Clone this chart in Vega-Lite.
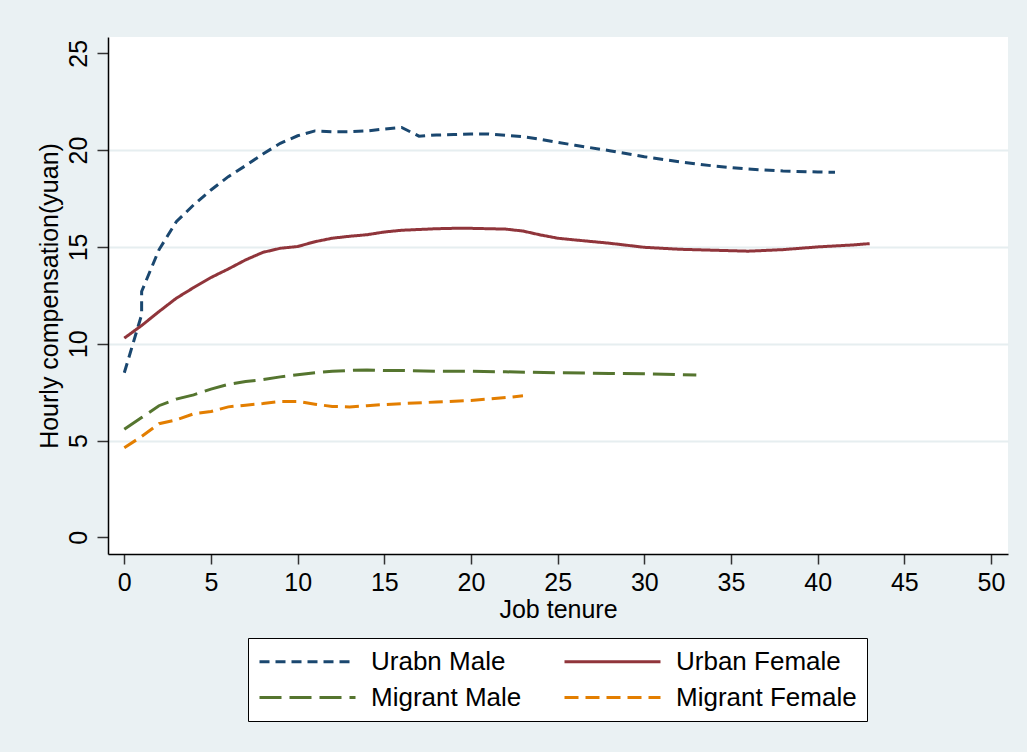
{
  "$schema": "https://vega.github.io/schema/vega-lite/v6.json",
  "autosize": {"type": "none"},
  "width": 900,
  "height": 517,
  "padding": {"left": 108, "top": 37, "right": 19, "bottom": 198},
  "background": "#EAF1F3",
  "config": {
    "font": "Liberation Sans",
    "view": {"stroke": null, "fill": "white"},
    "axis": {"labelFont": "Liberation Sans", "titleFont": "Liberation Sans", "labelColor": "black", "titleColor": "black", "titleFontWeight": "normal", "labelFontSize": 25, "titleFontSize": 25, "domainColor": "black", "domainWidth": 1.5, "tickColor": "#333333", "tickWidth": 1.5},
    "legend": {"labelFont": "Liberation Sans", "labelFontSize": 26, "labelColor": "black"}
  },
  "data": {
    "values": [
      {"s": "Urabn Male", "i": 1, "t": 0, "v": 8.5},
      {"s": "Urabn Male", "i": 2, "t": 1, "v": 11.5},
      {"s": "Urabn Male", "i": 3, "t": 1, "v": 12.7},
      {"s": "Urabn Male", "i": 4, "t": 2, "v": 14.85},
      {"s": "Urabn Male", "i": 5, "t": 3, "v": 16.3},
      {"s": "Urabn Male", "i": 6, "t": 4, "v": 17.17},
      {"s": "Urabn Male", "i": 7, "t": 5, "v": 17.94},
      {"s": "Urabn Male", "i": 8, "t": 6, "v": 18.63},
      {"s": "Urabn Male", "i": 9, "t": 7, "v": 19.2},
      {"s": "Urabn Male", "i": 10, "t": 8, "v": 19.8},
      {"s": "Urabn Male", "i": 11, "t": 9, "v": 20.35},
      {"s": "Urabn Male", "i": 12, "t": 10, "v": 20.74},
      {"s": "Urabn Male", "i": 13, "t": 11, "v": 20.99},
      {"s": "Urabn Male", "i": 14, "t": 12, "v": 20.95},
      {"s": "Urabn Male", "i": 15, "t": 13, "v": 20.95},
      {"s": "Urabn Male", "i": 16, "t": 14, "v": 20.99},
      {"s": "Urabn Male", "i": 17, "t": 15, "v": 21.09},
      {"s": "Urabn Male", "i": 18, "t": 16, "v": 21.17},
      {"s": "Urabn Male", "i": 19, "t": 17, "v": 20.72},
      {"s": "Urabn Male", "i": 20, "t": 18, "v": 20.78},
      {"s": "Urabn Male", "i": 21, "t": 19, "v": 20.8},
      {"s": "Urabn Male", "i": 22, "t": 20, "v": 20.83},
      {"s": "Urabn Male", "i": 23, "t": 21, "v": 20.83},
      {"s": "Urabn Male", "i": 24, "t": 22, "v": 20.76},
      {"s": "Urabn Male", "i": 25, "t": 23, "v": 20.69},
      {"s": "Urabn Male", "i": 26, "t": 24, "v": 20.56},
      {"s": "Urabn Male", "i": 27, "t": 25, "v": 20.4},
      {"s": "Urabn Male", "i": 28, "t": 26, "v": 20.25},
      {"s": "Urabn Male", "i": 29, "t": 28, "v": 19.97},
      {"s": "Urabn Male", "i": 30, "t": 30, "v": 19.66},
      {"s": "Urabn Male", "i": 31, "t": 32, "v": 19.4},
      {"s": "Urabn Male", "i": 32, "t": 34, "v": 19.18},
      {"s": "Urabn Male", "i": 33, "t": 36, "v": 19.02},
      {"s": "Urabn Male", "i": 34, "t": 38, "v": 18.92},
      {"s": "Urabn Male", "i": 35, "t": 40, "v": 18.87},
      {"s": "Urabn Male", "i": 36, "t": 41, "v": 18.85},
      {"s": "Urban Female", "i": 1, "t": 0, "v": 10.29},
      {"s": "Urban Female", "i": 2, "t": 1, "v": 10.94},
      {"s": "Urban Female", "i": 3, "t": 2, "v": 11.66},
      {"s": "Urban Female", "i": 4, "t": 3, "v": 12.35},
      {"s": "Urban Female", "i": 5, "t": 4, "v": 12.9},
      {"s": "Urban Female", "i": 6, "t": 5, "v": 13.42},
      {"s": "Urban Female", "i": 7, "t": 6, "v": 13.86},
      {"s": "Urban Female", "i": 8, "t": 7, "v": 14.33},
      {"s": "Urban Female", "i": 9, "t": 8, "v": 14.72},
      {"s": "Urban Female", "i": 10, "t": 9, "v": 14.93},
      {"s": "Urban Female", "i": 11, "t": 10, "v": 15.02},
      {"s": "Urban Female", "i": 12, "t": 11, "v": 15.27},
      {"s": "Urban Female", "i": 13, "t": 12, "v": 15.45},
      {"s": "Urban Female", "i": 14, "t": 13, "v": 15.55},
      {"s": "Urban Female", "i": 15, "t": 14, "v": 15.63},
      {"s": "Urban Female", "i": 16, "t": 15, "v": 15.77},
      {"s": "Urban Female", "i": 17, "t": 16, "v": 15.86},
      {"s": "Urban Female", "i": 18, "t": 18, "v": 15.94},
      {"s": "Urban Female", "i": 19, "t": 19, "v": 15.96},
      {"s": "Urban Female", "i": 20, "t": 20, "v": 15.96},
      {"s": "Urban Female", "i": 21, "t": 21, "v": 15.94},
      {"s": "Urban Female", "i": 22, "t": 22, "v": 15.92},
      {"s": "Urban Female", "i": 23, "t": 23, "v": 15.82},
      {"s": "Urban Female", "i": 24, "t": 24, "v": 15.62},
      {"s": "Urban Female", "i": 25, "t": 25, "v": 15.45},
      {"s": "Urban Female", "i": 26, "t": 26, "v": 15.36},
      {"s": "Urban Female", "i": 27, "t": 28, "v": 15.19},
      {"s": "Urban Female", "i": 28, "t": 30, "v": 14.98},
      {"s": "Urban Female", "i": 29, "t": 32, "v": 14.88},
      {"s": "Urban Female", "i": 30, "t": 34, "v": 14.83},
      {"s": "Urban Female", "i": 31, "t": 36, "v": 14.78},
      {"s": "Urban Female", "i": 32, "t": 38, "v": 14.86},
      {"s": "Urban Female", "i": 33, "t": 40, "v": 15.0},
      {"s": "Urban Female", "i": 34, "t": 42, "v": 15.1},
      {"s": "Urban Female", "i": 35, "t": 43, "v": 15.17},
      {"s": "Migrant Male", "i": 1, "t": 0, "v": 5.59},
      {"s": "Migrant Male", "i": 2, "t": 1, "v": 6.19},
      {"s": "Migrant Male", "i": 3, "t": 2, "v": 6.8},
      {"s": "Migrant Male", "i": 4, "t": 3, "v": 7.14},
      {"s": "Migrant Male", "i": 5, "t": 4, "v": 7.36},
      {"s": "Migrant Male", "i": 6, "t": 5, "v": 7.66},
      {"s": "Migrant Male", "i": 7, "t": 6, "v": 7.9},
      {"s": "Migrant Male", "i": 8, "t": 7, "v": 8.05},
      {"s": "Migrant Male", "i": 9, "t": 8, "v": 8.15},
      {"s": "Migrant Male", "i": 10, "t": 9, "v": 8.29},
      {"s": "Migrant Male", "i": 11, "t": 10, "v": 8.4},
      {"s": "Migrant Male", "i": 12, "t": 11, "v": 8.5},
      {"s": "Migrant Male", "i": 13, "t": 12, "v": 8.58},
      {"s": "Migrant Male", "i": 14, "t": 13, "v": 8.62},
      {"s": "Migrant Male", "i": 15, "t": 14, "v": 8.65},
      {"s": "Migrant Male", "i": 16, "t": 15, "v": 8.62},
      {"s": "Migrant Male", "i": 17, "t": 16, "v": 8.62},
      {"s": "Migrant Male", "i": 18, "t": 18, "v": 8.58},
      {"s": "Migrant Male", "i": 19, "t": 20, "v": 8.58},
      {"s": "Migrant Male", "i": 20, "t": 22, "v": 8.55},
      {"s": "Migrant Male", "i": 21, "t": 25, "v": 8.5},
      {"s": "Migrant Male", "i": 22, "t": 28, "v": 8.47},
      {"s": "Migrant Male", "i": 23, "t": 30, "v": 8.45},
      {"s": "Migrant Male", "i": 24, "t": 33, "v": 8.38},
      {"s": "Migrant Female", "i": 1, "t": 0, "v": 4.63},
      {"s": "Migrant Female", "i": 2, "t": 1, "v": 5.21},
      {"s": "Migrant Female", "i": 3, "t": 2, "v": 5.87},
      {"s": "Migrant Female", "i": 4, "t": 3, "v": 6.07},
      {"s": "Migrant Female", "i": 5, "t": 4, "v": 6.38},
      {"s": "Migrant Female", "i": 6, "t": 5, "v": 6.5},
      {"s": "Migrant Female", "i": 7, "t": 6, "v": 6.74},
      {"s": "Migrant Female", "i": 8, "t": 7, "v": 6.83},
      {"s": "Migrant Female", "i": 9, "t": 8, "v": 6.91},
      {"s": "Migrant Female", "i": 10, "t": 9, "v": 7.02},
      {"s": "Migrant Female", "i": 11, "t": 10, "v": 7.02},
      {"s": "Migrant Female", "i": 12, "t": 11, "v": 6.88},
      {"s": "Migrant Female", "i": 13, "t": 12, "v": 6.76},
      {"s": "Migrant Female", "i": 14, "t": 13, "v": 6.74},
      {"s": "Migrant Female", "i": 15, "t": 14, "v": 6.8},
      {"s": "Migrant Female", "i": 16, "t": 15, "v": 6.86},
      {"s": "Migrant Female", "i": 17, "t": 16, "v": 6.91},
      {"s": "Migrant Female", "i": 18, "t": 18, "v": 6.99},
      {"s": "Migrant Female", "i": 19, "t": 20, "v": 7.07},
      {"s": "Migrant Female", "i": 20, "t": 22, "v": 7.22},
      {"s": "Migrant Female", "i": 21, "t": 23, "v": 7.31}
    ]
  },
  "mark": {"type": "line", "strokeWidth": 3, "interpolate": "linear"},
  "encoding": {
    "x": {
      "field": "t", "type": "quantitative",
      "scale": {"domain": [-0.94, 50.98], "nice": false, "zero": false},
      "axis": {"values": [0, 5, 10, 15, 20, 25, 30, 35, 40, 45, 50], "title": "Job tenure", "grid": false, "tickSize": 10, "labelPadding": 6, "titlePadding": 2, "labelFlush": false}
    },
    "y": {
      "field": "v", "type": "quantitative",
      "scale": {"domain": [-0.857, 25.84], "nice": false, "zero": false},
      "axis": {
        "values": [0, 5, 10, 15, 20, 25],
        "title": "Hourly compensation(yuan)",
        "grid": true, "gridColor": "#E6EEF0", "gridWidth": 2,
        "gridOpacity": {"condition": {"test": "datum.value == 0 || datum.value == 25", "value": 0}, "value": 1},
        "tickSize": 11, "labelAngle": -90, "labelAlign": "center", "labelBaseline": "bottom", "labelPadding": 6, "titlePadding": 4, "labelFlush": false
      }
    },
    "order": {"field": "i", "type": "quantitative"},
    "color": {
      "field": "s", "type": "nominal",
      "scale": {"domain": ["Urabn Male", "Urban Female", "Migrant Male", "Migrant Female"], "range": ["#1a476f", "#90353b", "#55752f", "#e37e00"]},
      "legend": {"title": null, "orient": "none", "legendX": 140, "legendY": 601, "direction": "horizontal", "columns": 2, "symbolType": "M-1,0H7", "symbolSize": 576, "symbolStrokeWidth": 3, "labelOffset": 86, "columnPadding": 36, "rowPadding": 9, "padding": 10, "strokeColor": "black", "fillColor": "white", "labelLimit": 400}
    },
    "strokeDash": {
      "field": "s", "type": "nominal",
      "scale": {"domain": ["Urabn Male", "Urban Female", "Migrant Male", "Migrant Female"], "range": [[10, 6], [1, 0], [22, 8], [14, 7]]},
      "legend": {"title": null, "orient": "none", "legendX": 140, "legendY": 601, "direction": "horizontal", "columns": 2, "symbolType": "M-1,0H7", "symbolSize": 576, "symbolStrokeWidth": 3, "labelOffset": 86, "columnPadding": 36, "rowPadding": 9, "padding": 10, "strokeColor": "black", "fillColor": "white", "labelLimit": 400}
    }
  }
}
